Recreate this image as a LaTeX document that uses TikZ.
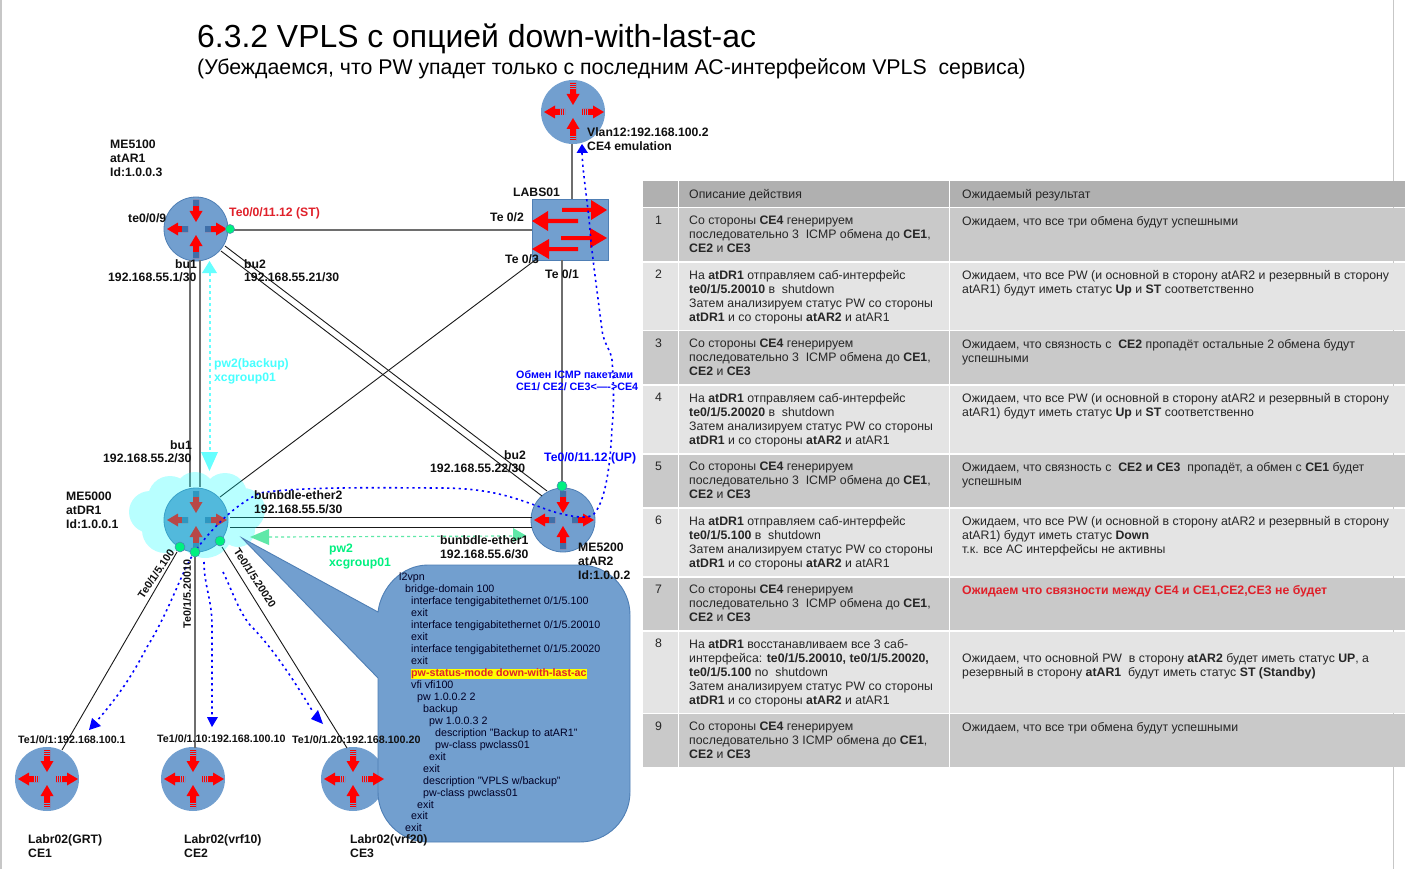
\documentclass[tikz,border=0pt]{standalone}
\usepackage{fontspec}
\setmainfont{Liberation Sans}
\definecolor{rblue}{HTML}{729FCF}
\definecolor{rdark}{HTML}{3F6FA8}
\definecolor{redge}{HTML}{4F7FB5}
\definecolor{hdr}{HTML}{B0B0B0}
\definecolor{rowd}{HTML}{C9C9C9}
\definecolor{rowl}{HTML}{E4E4E4}
\definecolor{gdot}{HTML}{00F080}
\definecolor{lgray}{HTML}{6E6E6E}
\definecolor{pwcy}{HTML}{66FFFF}
\definecolor{pwgr}{HTML}{5FE8A8}
\definecolor{lblred}{HTML}{E0202A}
\definecolor{txt}{HTML}{101010}
\definecolor{purecyan}{HTML}{00FFFF}
\definecolor{pureyellow}{HTML}{FFFF00}
\definecolor{purered}{HTML}{FF0000}
\definecolor{pureblue}{HTML}{0000FF}
\tikzset{
  x=1pt,y=-1pt,
  routernode/.style={circle,fill=rblue,minimum size=64pt,inner sep=0pt,outer sep=0pt},
  routeredge/.style={routernode,draw=redge,line width=.8pt},
  switchnode/.style={rectangle,fill=rblue,draw=redge,line width=.8pt,minimum width=76pt,minimum height=61pt,inner sep=0pt,outer sep=0pt},
  grayline/.style={draw=lgray,line width=1.6pt},
  thinline/.style={draw=black!90,line width=.9pt},
  dotblue/.style={draw=pureblue,line width=1.6pt,dash pattern=on 2.2pt off 3.6pt},
  lbl/.style={anchor=west,inner sep=0pt,font=\fontsize{12.2}{14}\selectfont\bfseries,text=txt,align=left},
  smalllbl/.style={lbl,font=\fontsize{10.7}{12}\selectfont\bfseries},
  cell/.style={anchor=north west,inner sep=0pt,align=left,text=black!85,font=\fontsize{12.3}{14}\selectfont},
  gport/.style={circle,fill=gdot,draw=redge,line width=.5pt,inner sep=0pt,minimum size=10pt},
}
\newcommand{\onearrow}[5]{% node, angle, tail, tip, colour
  \begin{scope}[shift={(#1)},rotate=#2,yscale=-1]
    \fill[#5] (#3,-3)--(#4-11,-3)--(#4-11,-6.5)--(#4,0)--(#4-11,6.5)--(#4-11,3)--(#3,3)--cycle;
  \end{scope}}
\newcommand{\blocktail}[3]{% node, angle, start
  \begin{scope}[shift={(#1)},rotate=#2]
    \fill[rdark] (#3,-2.8) rectangle (#3+6,2.8);
  \end{scope}}
\newcommand{\stripes}[3]{% node, angle, start
  \begin{scope}[shift={(#1)},rotate=#2]
    \foreach \k in {1.2,3,4.8}{\draw[rblue,line width=.4pt] (#3+\k,-3.2)--(#3+\k,3.2);}
  \end{scope}}
\newcommand{\arrowset}[1]{%
  \onearrow{#1}{-90}{-29}{-7}{purered}\onearrow{#1}{90}{-29}{-6}{purered}%
  \onearrow{#1}{180}{8}{29}{purered}\onearrow{#1}{0}{9}{31}{purered}}
\newcommand{\routerblock}[1]{\arrowset{#1}%
  \blocktail{#1}{-90}{-29}\blocktail{#1}{90}{-29}\blocktail{#1}{180}{8}\blocktail{#1}{0}{9}}
\newcommand{\routerstripe}[1]{\arrowset{#1}%
  \stripes{#1}{-90}{-29}\stripes{#1}{90}{-29}\stripes{#1}{180}{8}\stripes{#1}{0}{9}}
\begin{document}
\begin{tikzpicture}
\useasboundingbox (0,0) rectangle (1405,869);
\fill[white] (0,0) rectangle (1405,869);
\draw[black!22,line width=2pt] (1,0)--(1,869);
\draw[black!22,line width=1pt] (1393,0)--(1393,869);

% title
\node[anchor=west,inner sep=0pt,font=\fontsize{31.9}{36}\selectfont,text=black] (title) at (197,39) {6.3.2 VPLS с опцией down-with-last-ac};
\node[anchor=west,inner sep=0pt,font=\fontsize{21.3}{24}\selectfont,text=black] (subtitle) at (197,68.5) {(Убеждаемся, что PW упадет только с последним АС-интерфейсом VPLS\ \ сервиса)};

% table
\foreach \ya/\yb/\c in {181/207/hdr,208/261/rowd,263/330/rowl,331/384/rowd,386/453/rowl,455/507/rowd,509/576/rowl,578/630/rowd,632/713/rowl,714/767/rowd}{
  \fill[\c] (643,\ya) rectangle (677.5,\yb);
  \fill[\c] (679,\ya) rectangle (948.5,\yb);
  \fill[\c] (950,\ya) rectangle (1405,\yb);
}
\node[cell] (h1) at (689,189) {Описание действия};
\node[cell] (h2) at (962,189) {Ожидаемый результат};
\foreach \n/\y in {1/216,2/270,3/339,4/393,5/462,6/516,7/585,8/639,9/722}{
  \node[cell] (num\n) at (655,\y) {\n};
}
\node[cell] (a1) at (689,216) {Со стороны \textbf{CE4} генерируем\\последовательно 3\ \ ICMP обмена до \textbf{CE1},\\\textbf{CE2} и \textbf{CE3}};
\node[cell] (b1) at (962,216) {Ожидаем, что все три обмена будут успешными};
\node[cell] (a2) at (689,270) {На \textbf{atDR1} отправляем саб-интерфейс\\\textbf{te0/1/5.20010} в\ \ shutdown\\Затем анализируем статус PW со стороны\\\textbf{atDR1} и со стороны \textbf{atAR2} и atAR1};
\node[cell] (b2) at (962,270) {Ожидаем, что все PW (и основной в сторону atAR2 и резервный в сторону\\atAR1) будут иметь статус \textbf{Up} и \textbf{ST} соответственно};
\node[cell] (a3) at (689,339) {Со стороны \textbf{CE4} генерируем\\последовательно 3\ \ ICMP обмена до \textbf{CE1},\\\textbf{CE2} и \textbf{CE3}};
\node[cell] (b3) at (962,339) {Ожидаем, что связность с\ \ \textbf{CE2} пропадёт остальные 2 обмена будут\\успешными};
\node[cell] (a4) at (689,393) {На \textbf{atDR1} отправляем саб-интерфейс\\\textbf{te0/1/5.20020} в\ \ shutdown\\Затем анализируем статус PW со стороны\\\textbf{atDR1} и со стороны \textbf{atAR2} и atAR1};
\node[cell] (b4) at (962,393) {Ожидаем, что все PW (и основной в сторону atAR2 и резервный в сторону\\atAR1) будут иметь статус \textbf{Up} и \textbf{ST} соответственно};
\node[cell] (a5) at (689,462) {Со стороны \textbf{CE4} генерируем\\последовательно 3\ \ ICMP обмена до \textbf{CE1},\\\textbf{CE2} и \textbf{CE3}};
\node[cell] (b5) at (962,462) {Ожидаем, что связность с\ \ \textbf{CE2 и CE3}\ \ пропадёт, а обмен с \textbf{CE1} будет\\успешным};
\node[cell] (a6) at (689,516) {На \textbf{atDR1} отправляем саб-интерфейс\\\textbf{te0/1/5.100} в\ \ shutdown\\Затем анализируем статус PW со стороны\\\textbf{atDR1} и со стороны \textbf{atAR2} и atAR1};
\node[cell] (b6) at (962,516) {Ожидаем, что все PW (и основной в сторону atAR2 и резервный в сторону\\atAR1) будут иметь статус \textbf{Down}\\т.к. все АС интерфейсы не активны};
\node[cell] (a7) at (689,585) {Со стороны \textbf{CE4} генерируем\\последовательно 3\ \ ICMP обмена до \textbf{CE1},\\\textbf{CE2} и \textbf{CE3}};
\node[cell,text=lblred,font=\fontsize{12.3}{14}\selectfont\bfseries] (b7) at (962,585) {Ожидаем что связности между CE4 и CE1,CE2,CE3 не будет};
\node[cell] (a8) at (689,639) {На \textbf{atDR1} восстанавливаем все 3 саб-\\интерфейса: \textbf{te0/1/5.20010, te0/1/5.20020,}\\\textbf{te0/1/5.100} no\ \ shutdown\\Затем анализируем статус PW со стороны\\\textbf{atDR1} и со стороны \textbf{atAR2} и atAR1};
\node[cell] (b8) at (962,653) {Ожидаем, что основной PW\ \ в сторону \textbf{atAR2} будет иметь статус \textbf{UP}, а\\резервный в сторону \textbf{atAR1}\ \ будут иметь статус \textbf{ST (Standby)}};
\node[cell] (a9) at (689,722) {Со стороны \textbf{CE4} генерируем\\последовательно 3 ICMP обмена до \textbf{CE1},\\\textbf{CE2} и \textbf{CE3}};
\node[cell] (b9) at (962,722) {Ожидаем, что все три обмена будут успешными};

% nodes
\node[routernode] (ce4) at (573,112) {};
\node[switchnode] (labs) at (570,229.5) {};
\node[routeredge] (ar1) at (196,229) {};
\node[routeredge] (dr1) at (196,520) {};
\node[routeredge] (ar2) at (563,520) {};
\node[routernode] (ce1) at (47,779) {};
\node[routernode] (ce2) at (193,779) {};
\node[routernode] (ce3) at (353,779) {};

% endpoints of connectors
\coordinate (ce4s) at (572,144);
\coordinate (labsn) at (572,199);
\coordinate (ar1e) at (230,230);
\coordinate (labsw) at (532,230);
\coordinate (labss) at (562,260);
\coordinate (ar2n) at (562,490);
\coordinate (labsc) at (538,258);
\coordinate (dr1c) at (220,497);
\coordinate (ar1a) at (190,260);\coordinate (dr1a) at (190,487);
\coordinate (ar1b) at (200,260);\coordinate (dr1b) at (200,487);
\coordinate (ar1c) at (225,246);\coordinate (ar2c) at (547,491);
\coordinate (ar1d) at (221,251);\coordinate (ar2d) at (542,496);
\coordinate (dr1e) at (230,517);\coordinate (ar2e) at (532,517);
\coordinate (dr1f) at (230,527);\coordinate (ar2f) at (532,527);
\coordinate (p100) at (177,552);\coordinate (ce1t) at (62,750);
\coordinate (p10) at (195,552);\coordinate (ce2t) at (195,748);
\coordinate (p20) at (222,547);\coordinate (ce3t) at (347,748);

% connectors
\draw[grayline] (ce4s)--(labsn);
\draw[grayline] (ar1e)--(labsw);
\draw[grayline] (labss)--(ar2n);
\draw[thinline] (labsc)--(dr1c);
\draw[grayline] (ar1a)--(dr1a);
\draw[grayline] (ar1b)--(dr1b);
\draw[thinline] (ar1c)--(ar2c);
\draw[thinline] (ar1d)--(ar2d);
\draw[thinline] (dr1e)--(ar2e);
\draw[thinline] (dr1f)--(ar2f);
\draw[thinline] (p100)--(ce1t);
\draw[grayline] (p10)--(ce2t);
\draw[thinline] (p20)--(ce3t);

% router glyphs
\routerstripe{ce4}
\routerblock{ar1}\routerblock{dr1}\routerblock{ar2}
\routerstripe{ce1}\routerstripe{ce2}

% switch arrows
\fill[purered] (562,208)--(591,208)--(591,200)--(607,210)--(591,220)--(591,212)--(562,212)--cycle;
\fill[purered] (578,219)--(548,219)--(548,211)--(532,221)--(548,231)--(548,223)--(578,223)--cycle;
\fill[purered] (561,236)--(590,236)--(590,228)--(607,238)--(590,248)--(590,240)--(561,240)--cycle;
\fill[purered] (578,247)--(549,247)--(549,239)--(532,249)--(549,259)--(549,251)--(578,251)--cycle;

% cloud (one path, so the circles do not darken each other)
\fill[purecyan,opacity=.28] (150,512) circle (21) (170,498) circle (22) (195,492) circle (20) (225,495) circle (22)
  (243,510) circle (22) (238,530) circle (17) (205,530) circle (28) (165,530) circle (23);

% pw arrows
\coordinate (pwa) at (210,273);\coordinate (pwb) at (210,452);
\draw[pwcy,line width=1.6pt,dash pattern=on 3pt off 3pt] (pwa)--(pwb);
\fill[pwcy] (209.5,261)--(217,273)--(202,273)--cycle;
\fill[pwcy] (201,452)--(218,452)--(209.5,471)--cycle;
\coordinate (pgw) at (269,537);\coordinate (pge) at (513,536);
\draw[pwgr,line width=1.2pt,dash pattern=on 3pt off 3pt] (pgw)--(pge);
\fill[pwgr] (250,537)--(269,529)--(269,545)--cycle;
\fill[pwgr] (513,528)--(526,535.5)--(513,542)--cycle;

% dotted traffic
\draw[dotblue] (582,153) .. controls (583,175) and (588,205) .. (590,230)
  .. controls (592,255) and (597,290) .. (602,330)
  .. controls (604,345) and (611,350) .. (612,360)
  .. controls (614,385) and (614,410) .. (612,427)
  .. controls (611,450) and (608,500) .. (593,515)
  .. controls (585,520) and (560,515) .. (540,507)
  .. controls (515,498) and (490,488) .. (440,488)
  .. controls (400,488) and (300,486) .. (260,493)
  .. controls (235,505) and (215,525) .. (195,551)
  .. controls (180,575) and (170,610) .. (147,647)
  .. controls (130,680) and (115,700) .. (96,722);
\fill[pureblue] (582,144)--(576.5,153)--(588,153)--cycle;
\fill[pureblue] (89,730)--(92,718)--(101,726)--cycle;
\draw[dotblue] (204,562) .. controls (204,585) and (212,600) .. (212,625) -- (212,717);
\fill[pureblue] (207,717)--(218,717)--(212,727)--cycle;
\draw[dotblue] (223,572) .. controls (232,590) and (238,610) .. (250,625)
  .. controls (265,640) and (285,665) .. (313,712);
\fill[pureblue] (323,724)--(311,719)--(318,710)--cycle;

% ports
\node[gport,minimum size=9pt] (gp1) at (230,229) {};
\node[gport] (gp2) at (562,486) {};
\node[gport] (gp3) at (180,547) {};
\node[gport] (gp4) at (195,552) {};
\node[gport] (gp5) at (220,541) {};

% callout
\path[fill=rblue,draw=redge,line width=.9pt]
  (428,565) -- (580,565) .. controls (607.6,565) and (630,587.4) .. (630,615) -- (630,792)
  .. controls (630,819.6) and (607.6,842) .. (580,842) -- (428,842)
  .. controls (400.4,842) and (378,819.6) .. (378,792) -- (378,678) -- (242,538) -- (378,612)
  .. controls (381,587) and (402,565) .. (428,565) -- cycle;
\arrowset{ce3}\stripes{ce3}{-90}{-29}\stripes{ce3}{90}{-29}\stripes{ce3}{180}{8}\stripes{ce3}{0}{9}

\node[anchor=north west,inner sep=0pt,align=left,text=black!85!blue,font=\fontsize{10.7}{11.95}\selectfont] (config) at (399,573) {%
l2vpn\\
\hspace*{6pt}bridge-domain 100\\
\hspace*{12pt}interface tengigabitethernet 0/1/5.100\\
\hspace*{12pt}exit\\
\hspace*{12pt}interface tengigabitethernet 0/1/5.20010\\
\hspace*{12pt}exit\\
\hspace*{12pt}interface tengigabitethernet 0/1/5.20020\\
\hspace*{12pt}exit\\
\hspace*{12pt}{\setlength{\fboxsep}{0pt}\colorbox{pureyellow}{\textcolor{lblred}{\bfseries pw-status-mode down-with-last-ac}}}\\
\hspace*{12pt}vfi vfi100\\
\hspace*{18pt}pw 1.0.0.2 2\\
\hspace*{24pt}backup\\
\hspace*{30pt}pw 1.0.0.3 2\\
\hspace*{36pt}description "Backup to atAR1"\\
\hspace*{36pt}pw-class pwclass01\\
\hspace*{30pt}exit\\
\hspace*{24pt}exit\\
\hspace*{24pt}description "VPLS w/backup"\\
\hspace*{24pt}pw-class pwclass01\\
\hspace*{18pt}exit\\
\hspace*{12pt}exit\\
\hspace*{6pt}exit};

% labels
\node[lbl] (lar1) at (110,158) {ME5100\\atAR1\\Id:1.0.0.3};
\node[lbl] (lte9) at (128,218) {te0/0/9};
\node[lbl,text=lblred] (lst) at (229,213) {Te0/0/11.12 (ST)};
\node[lbl] (lbu1) at (175,264) {bu1};
\node[lbl] (lip1) at (108,277) {192.168.55.1/30};
\node[lbl] (lbu2) at (244,264) {bu2};
\node[lbl] (lip21) at (244,277) {192.168.55.21/30};
\node[lbl] (llabs) at (513,192) {LABS01};
\node[lbl] (lt2) at (490,217) {Te 0/2};
\node[lbl] (lt3) at (505,259) {Te 0/3};
\node[lbl] (lt1) at (545,274) {Te 0/1};
\node[lbl] (lvlan) at (587,139) {Vlan12:192.168.100.2\\CE4 emulation};
\node[lbl,text=pwcy!70!purecyan] (lpw) at (214,371) {pw2(backup)\\xcgroup01};
\node[lbl] (lbu1b) at (170,445) {bu1};
\node[lbl] (lip2) at (103,458) {192.168.55.2/30};
\node[lbl] (ldr1) at (66,510) {ME5000\\atDR1\\Id:1.0.0.1};
\node[lbl] (lbe2) at (254,502) {bunbdle-ether2\\192.168.55.5/30};
\node[smalllbl,text=pureblue] (licmp) at (516,381) {Обмен ICMP пакетами\\CE1/ CE2/ CE3<---->CE4};
\node[lbl] (lbu2b) at (504,455) {bu2};
\node[lbl] (lip22) at (430,468) {192.168.55.22/30};
\node[lbl,text=pureblue] (lup) at (544,458) {Te0/0/11.12 (UP)};
\node[lbl] (lbe1) at (440,547) {bunbdle-ether1\\192.168.55.6/30};
\node[lbl,text=gdot] (lpwg) at (329,557) {pw2\\xcgroup01};
\node[lbl] (lar2) at (578,561) {ME5200\\atAR2\\Id:1.0.0.2};
\node[smalllbl,rotate=56,anchor=center] (l100) at (156,574) {Te0/1/5.100};
\node[smalllbl,rotate=90,anchor=center] (l2010) at (187,594) {Te0/1/5.20010};
\node[smalllbl,rotate=-57,anchor=center] (l2020) at (255,578) {Te0/1/5.20020};
\node[smalllbl] (lce1ip) at (18,740) {Te1/0/1:192.168.100.1};
\node[smalllbl] (lce2ip) at (157,739) {Te1/0/1.10:192.168.100.10};
\node[smalllbl] (lce3ip) at (292,740) {Te1/0/1.20:192.168.100.20};
\node[lbl] (lce1) at (28,846.5) {Labr02(GRT)\\CE1};
\node[lbl] (lce2) at (184,846.5) {Labr02(vrf10)\\CE2};
\node[lbl] (lce3) at (350,846.5) {Labr02(vrf20)\\CE3};
\end{tikzpicture}
\end{document}
